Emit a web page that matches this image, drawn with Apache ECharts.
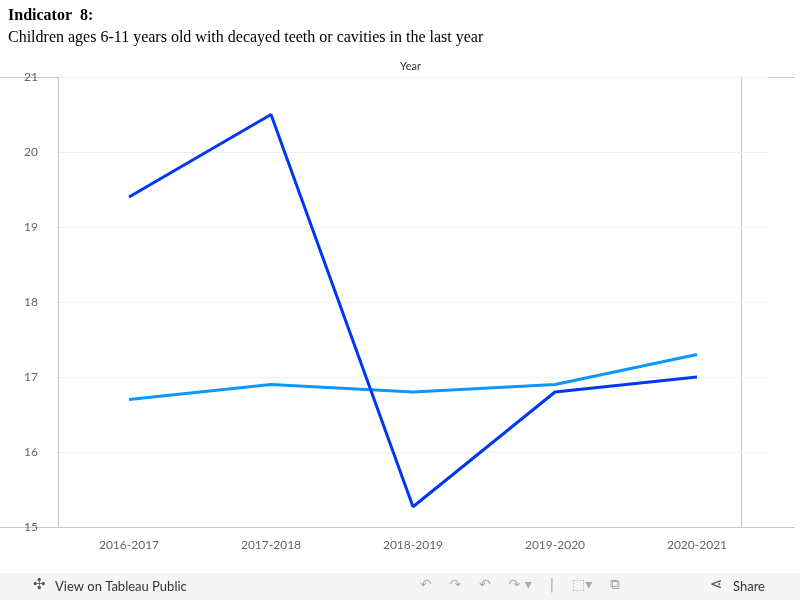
<!DOCTYPE html>
<html><head><meta charset="utf-8">
<script src="https://cdn.jsdelivr.net/npm/echarts@6/dist/echarts.min.js"></script>
<style>html,body{margin:0;padding:0;background:#fff}#c{width:800px;height:600px}</style>
</head><body><div id="c"></div>
<script>
const categories = ['2016-2017','2017-2018','2018-2019','2019-2020','2020-2021'];
const seriesA = [19.4, 20.5, 15.27, 16.8, 17.0];
const seriesB = [16.7, 16.9, 16.8, 16.9, 17.3];
const yTicks = [15,16,17,18,19,20,21];
const chart = echarts.init(document.getElementById('c'));
chart.setOption({
  animation:false,
  grid:{left:58,top:77,width:710,height:450},
  xAxis:{type:'category',data:categories,boundaryGap:true,
    axisLine:{show:true,lineStyle:{color:'#c8c8c8'}},axisTick:{show:false},
    axisLabel:{color:'#666',fontFamily:'Lato',fontSize:12,margin:12}},
  yAxis:{type:'value',min:15,max:21,interval:1,
    axisLine:{show:true,lineStyle:{color:'#c8c8c8'}},axisTick:{show:false},
    splitLine:{lineStyle:{color:'#f0f0f0'}},
    axisLabel:{color:'#666',fontFamily:'Lato',fontSize:12,margin:20,
      formatter:v=>yTicks.includes(v)?String(v):''}},
  series:[
    {type:'line',data:seriesB,symbol:'none',lineStyle:{color:'#0a98ff',width:3},z:2},
    {type:'line',data:seriesA,symbol:'none',lineStyle:{color:'#0038f0',width:3},z:3}
  ],
  graphic:[
    {type:'text',left:8,top:8,style:{text:'Indicator  8:',font:'bold 16px "Liberation Serif"',fill:'#000'}},
    {type:'text',left:8,top:30,style:{text:'Children ages 6-11 years old with decayed teeth or cavities in the last year',font:'16px "Liberation Serif"',fill:'#000'}},
    {type:'text',left:400,top:61,style:{text:'Year',font:'11px Lato',fill:'#333'}},
    {type:'line',shape:{x1:0,y1:77.5,x2:795,y2:77.5},style:{stroke:'#c8c8c8'}},
    {type:'line',shape:{x1:0,y1:527.5,x2:795,y2:527.5},style:{stroke:'#c8c8c8'}},
    {type:'line',shape:{x1:741.5,y1:77,x2:741.5,y2:527},style:{stroke:'#c8c8c8'}},
    {type:'rect',shape:{x:0,y:573,width:800,height:27},style:{fill:'#f5f5f5'}},
    {type:'text',left:55,top:580,style:{text:'View on Tableau Public',font:'13px Lato',fill:'#333'}},
    {type:'text',left:33,top:578,style:{text:'✣',font:'15px "DejaVu Sans"',fill:'#555'}},
    {type:'text',left:420,top:578,style:{text:'↶    ↷    ↶    ↷ ▾    |    ⬚▾    ⧉    ',font:'14px "DejaVu Sans"',fill:'#aaa'}},
    {type:'text',left:733,top:580,style:{text:'Share',font:'13px Lato',fill:'#333'}},
    {type:'text',left:710,top:578,style:{text:'⋖',font:'15px "DejaVu Sans"',fill:'#555'}}
  ]
});
</script></body></html>
